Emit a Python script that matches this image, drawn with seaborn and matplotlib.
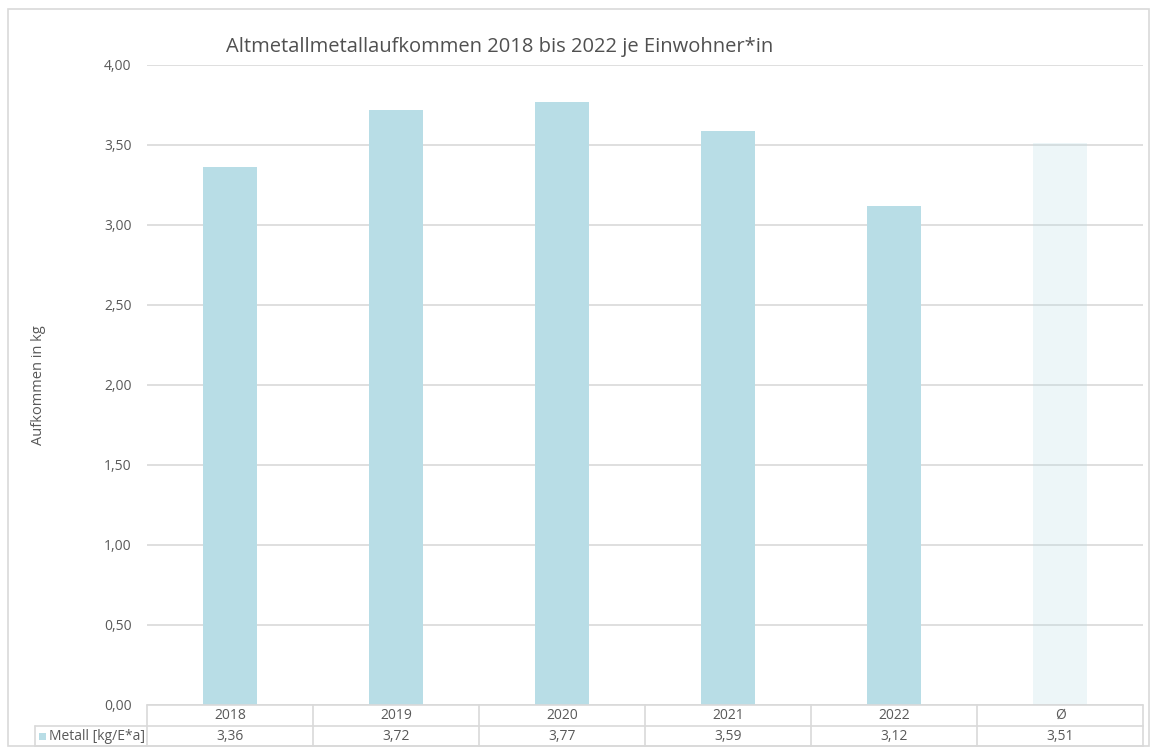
import matplotlib
matplotlib.use("Agg")
import matplotlib.pyplot as plt
import seaborn as sns
import pandas as pd
from matplotlib.patches import Rectangle
from matplotlib.lines import Line2D

categories = ["2018", "2019", "2020", "2021", "2022", "Ø"]
values = [3.36, 3.72, 3.77, 3.59, 3.12, 3.51]
value_labels = ["3,36", "3,72", "3,77", "3,59", "3,12", "3,51"]
series_name = "Metall [kg/E*a]"
yticks = [0, 0.5, 1.0, 1.5, 2.0, 2.5, 3.0, 3.5, 4.0]
ytick_labels = ["0,00", "0,50", "1,00", "1,50", "2,00", "2,50", "3,00", "3,50", "4,00"]

sns.set_theme(style="white")
plt.rcParams['font.family'] = ['Open Sans', 'DejaVu Sans']

W, H = 1150, 747
fig = plt.figure(figsize=(W / 100, H / 100), dpi=100)

def fx(px): return px / W
def fy(py): return 1 - py / H

left, right, top, bottom = 147, 1143, 65, 705
ax = fig.add_axes([fx(left), fy(bottom), fx(right) - fx(left), fy(top) - fy(bottom)])

df = pd.DataFrame({"cat": categories, "val": values})
bar_color = "#b8dde6"
sns.barplot(data=df, x="cat", y="val", order=categories, color=bar_color,
            width=0.32, saturation=1, ax=ax, zorder=3, linewidth=0, edgecolor="none")
# average bar is translucent
ax.patches[-1].set_alpha(0.25)
ax.patches[-1].set_zorder(4)

ax.set_ylim(0, 4)
ax.set_xlim(-0.5, len(categories) - 0.5)
ax.set_yticks(yticks)
ax.set_yticklabels(ytick_labels, color="#595959", fontsize=10)
ax.yaxis.grid(True, color="#d9d9d9", linewidth=1.2, zorder=0)
ax.set_axisbelow(True)
ax.set_xticks([])
ax.set_xlabel("")
ax.set_ylabel("")
ax.tick_params(axis="y", length=0, pad=11)
for s in ax.spines.values():
    s.set_visible(False)

# y axis title
fig.text(fx(38), fy(385), "Aufkommen in kg", rotation=90, ha="center", va="center",
         fontsize=10.5, color="#595959")

# outer border
fig.patches.append(Rectangle((fx(8), fy(H - 1)), fx(W - 9), fy(9) - fy(H - 1),
                             transform=fig.transFigure, fill=False,
                             edgecolor="#d9d9d9", linewidth=1.2))

# Title
fig.text(fx(500), fy(47), "Altmetallmetallaufkommen 2018 bis 2022 je Einwohner*in",
         ha="center", va="center", fontsize=14.5, color="#505050")

# Data table
lc = "#d9d9d9"
tab_left = 35
row1_top, row_mid, row_bot = 705, 726, 746
n = len(categories)
cw = (right - left) / n

def hline(x0, x1, y):
    fig.add_artist(Line2D([fx(x0), fx(x1)], [fy(y), fy(y)], color=lc, linewidth=1.2,
                          transform=fig.transFigure))

def vline(x, y0, y1):
    fig.add_artist(Line2D([fx(x), fx(x)], [fy(y0), fy(y1)], color=lc, linewidth=1.2,
                          transform=fig.transFigure))

hline(left, right, row1_top)
hline(tab_left, right, row_mid)
hline(tab_left, right, row_bot)
vline(tab_left, row_mid, row_bot)
for k in range(n + 1):
    vline(left + k * cw, row1_top, row_bot)

for k, (c, v) in enumerate(zip(categories, value_labels)):
    cx = left + (k + 0.5) * cw
    fig.text(fx(cx), fy((row1_top + row_mid) / 2), c, ha="center", va="center",
             fontsize=10, color="#595959")
    fig.text(fx(cx), fy((row_mid + row_bot) / 2), v, ha="center", va="center",
             fontsize=10, color="#595959")

# legend key in table
fig.patches.append(Rectangle((fx(39), fy(740)), fx(7), fy(733) - fy(740),
                             transform=fig.transFigure, facecolor=bar_color, edgecolor="none"))
fig.text(fx(49), fy((row_mid + row_bot) / 2), series_name, ha="left", va="center",
         fontsize=10, color="#595959")

fig.savefig("out.png", dpi=100)
